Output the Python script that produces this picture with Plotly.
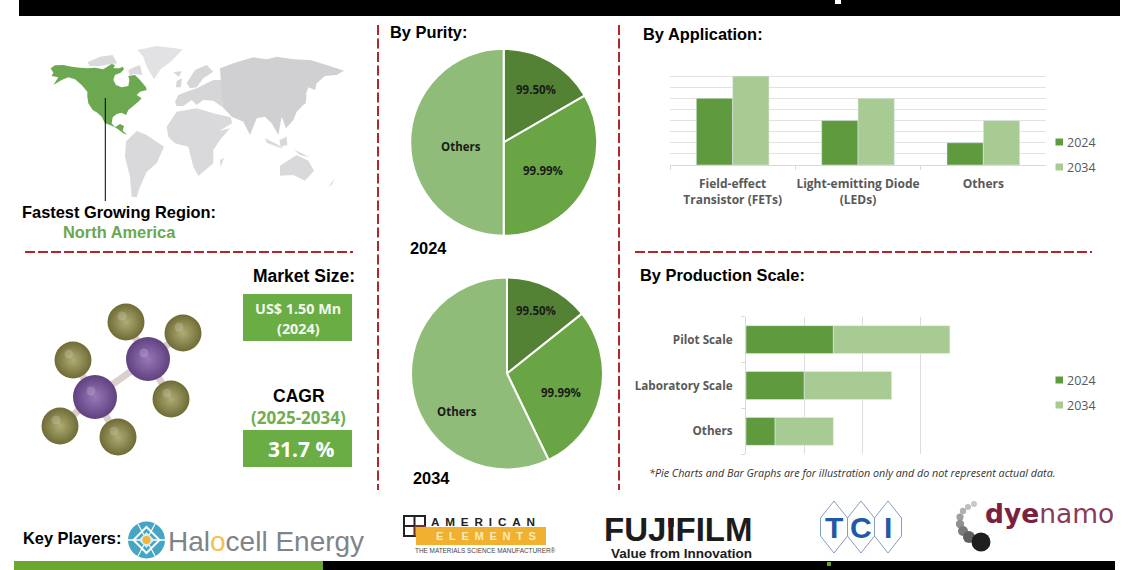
import plotly.graph_objects as go

W, H = 1140, 570
GREEN_DARK = '#5F9A3E'
GREEN_LIGHT = '#A8CB94'
RED = '#B0282E'
ARIAL = 'Liberation Sans'
SANS = 'Open Sans'

# pie data
purity_labels = ['99.50%', '99.99%', 'Others']
purity_2024 = [1, 2, 3]
purity_2034 = [1, 2, 4]
pie_colors = ['#548235', '#6AA545', '#8FBC78']
pie_text_2024 = [(536, 89), (543, 170), (461, 146)]
pie_text_2034 = [(536, 310), (561, 392), (457, 411)]

# application bars
app_labels = ['Field-effect<br>Transistor (FETs)', 'Light-emitting Diode<br>(LEDs)', 'Others']
app_2024 = [6, 4, 2]
app_2034 = [8, 6, 4]

# production scale bars
scale_labels = ['Others', 'Laboratory Scale', 'Pilot Scale']
scale_2024 = [0.5, 1, 1.5]
scale_2034 = [1, 1.5, 2]

# molecule, pixel positions
bonds = [[(148, 359), (95, 397)], [(148, 359), (126, 322)], [(148, 359), (183, 333)], [(148, 359), (171, 399)],
         [(95, 397), (73, 360)], [(95, 397), (60, 426)], [(95, 397), (118, 437)]]
purple_x = [148, 95]
purple_y = [359, 397]
olive_x = [126, 183, 73, 171, 60, 118]
olive_y = [322, 333, 360, 399, 426, 437]

# rough world outline, pixel positions x3 (taken from the zoomed crop)
land_grey = [
    ('#DADADC', [(262,187),(300,170),(338,165),(352,190),(330,193),(300,198),(270,198)]),
    ('#DADADC', [(385,210),(405,200),(420,195),(427,225),(405,222),(388,226)]),
    ('#E2E2E4', [(412,150),(470,138),(548,148),(512,185),(482,208),(462,238),(440,200),(430,170)]),
    ('#D9D9DB', [(378,425),(410,393),(440,405),(492,440),(470,490),(440,515),(420,560),(410,592),(395,590),(390,530),(375,470)]),
    ('#D9D9DB', [(500,380),(530,335),(590,325),(640,340),(660,392),(690,385),(660,420),(640,450),(640,490),(595,528),(580,500),(565,440),(525,430),(505,410)]),
    ('#D9D9DB', [(660,480),(672,473),(662,502)]),
    ('#D6D6D8', [(560,250),(585,210),(620,195),(640,215),(610,235),(590,262),(570,265)]),
    ('#D6D6D8', [(525,305),(535,285),(560,275),(590,265),(640,240),(665,240),(668,322),(640,302),(610,300),(590,315),(575,300),(550,318),(530,318)]),
    ('#D6D6D8', [(530,243),(546,235),(542,262),(528,262)]),
    ('#D6D6D8', [(520,216),(546,214),(536,230)]),
    ('#D0D0D2', [(660,205),(700,190),(760,172),(800,178),(830,170),(880,178),(930,180),(980,195),(1032,212),(1010,225),(975,228),
                 (950,250),(945,270),(925,262),(915,290),(905,320),(890,335),(880,360),(858,385),(845,350),(835,405),(815,370),(795,350),
                 (770,355),(750,405),(730,365),(695,350),(668,322)]),
    ('#DADADC', [(640,340),(692,352),(696,370),(655,395)]),
    ('#D0D0D2', [(905,296),(920,282),(917,310),(895,326)]),
    ('#D9D9DB', [(795,415),(830,432),(850,445),(835,442),(800,428)]),
    ('#D9D9DB', [(838,420),(860,410),(862,435),(842,440)]),
    ('#D9D9DB', [(880,448),(930,472),(900,465)]),
    ('#D9D9DB', [(840,497),(890,465),(925,482),(942,512),(915,542),(880,525),(840,527)]),
    ('#E2E2E4', [(985,562),(1003,535),(998,553)]),
]
land_green = [(152,205),(165,196),(190,195),(215,200),(240,203),(262,205),(285,203),(310,208),(325,198),(335,192),(345,195),
              (340,205),(358,205),(368,200),(372,208),(362,218),(345,225),(340,240),(348,255),(365,262),(385,258),(388,240),
              (385,228),(405,225),(420,240),(438,262),(440,270),(420,275),(410,285),(425,295),(415,305),(395,322),(385,330),
              (378,345),(365,338),(350,342),(338,352),(335,370),(345,382),(360,372),(372,378),(368,392),(382,405),(370,400),
              (350,385),(330,375),(315,370),(305,350),(292,338),(278,330),(265,310),(262,290),(262,275),(245,255),(225,238),
              (205,232),(185,240),(160,255),(170,240),(175,232),(155,228),(160,218)]

shapes = []
annots = []


def rect(x0, y0, x1, y1, color, line=None):
    shapes.append(dict(type='rect', xref='x3', yref='y3', x0=x0, y0=y0, x1=x1, y1=y1, fillcolor=color,
                       line=dict(width=line[1], color=line[0]) if line else dict(width=0)))


def seg(x0, y0, x1, y1, color, width=1, dash=None):
    shapes.append(dict(type='line', xref='x3', yref='y3', x0=x0, y0=y0, x1=x1, y1=y1,
                       line=dict(color=color, width=width, dash=dash)))


def circle(cx, cy, r, color):
    shapes.append(dict(type='circle', xref='x3', yref='y3', x0=cx-r, y0=cy-r, x1=cx+r, y1=cy+r,
                       fillcolor=color, line=dict(width=0)))


def poly(points, color, line=None):
    path = 'M ' + ' L '.join(f'{x} {y}' for x, y in points) + ' Z'
    shapes.append(dict(type='path', xref='x3', yref='y3', path=path, fillcolor=color,
                       line=dict(width=line[1], color=line[0]) if line else dict(width=0)))


def label(x, y, text, size=16.4, color='black', family=ARIAL, anchor='left', bold=True, weight=None):
    # annotations sit about 2px inside their anchor
    shift = {'left': -2, 'right': 2, 'center': 0}[anchor]
    annots.append(dict(xref='x3', yref='y3', x=x+shift, y=y, text=text, showarrow=False, xanchor=anchor, yanchor='middle',
                       font=dict(size=size, color=color, family=family, weight=weight or (700 if bold else 400))))


fig = go.Figure()

# bars
fig.add_trace(go.Bar(x=app_labels, y=app_2024, marker_color=GREEN_DARK, xaxis='x', yaxis='y', showlegend=False))
fig.add_trace(go.Bar(x=app_labels, y=app_2034, marker_color=GREEN_LIGHT, xaxis='x', yaxis='y', showlegend=False))
fig.add_trace(go.Bar(y=scale_labels, x=scale_2024, orientation='h', marker_color=GREEN_DARK, xaxis='x2', yaxis='y2', showlegend=False))
fig.add_trace(go.Bar(y=scale_labels, x=scale_2034, orientation='h', marker_color=GREEN_LIGHT, xaxis='x2', yaxis='y2', showlegend=False))

# pies
for vals, cx, cy, r in [(purity_2024, 503.7, 142.3, 93.5), (purity_2034, 507, 373.5, 96)]:
    fig.add_trace(go.Pie(labels=purity_labels, values=vals, sort=False, direction='clockwise', rotation=0,
                         textinfo='none',
                         marker=dict(colors=pie_colors, line=dict(color='white', width=2)),
                         domain=dict(x=[(cx-r)/W, (cx+r)/W], y=[1-(cy+r)/H, 1-(cy-r)/H]), showlegend=False))
for spots in (pie_text_2024, pie_text_2034):
    for name, (tx, ty) in zip(purity_labels, spots):
        label(tx, ty, name, size=11.5, color='#1A1A1A', family=SANS, anchor='center')

# molecule
for a, b in bonds:
    fig.add_trace(go.Scatter(x=[a[0], b[0]], y=[a[1], b[1]], mode='lines', xaxis='x3', yaxis='y3', showlegend=False,
                             line=dict(color='#D9CFCB', width=7)))
fig.add_trace(go.Scatter(x=olive_x, y=olive_y, mode='markers', xaxis='x3', yaxis='y3', showlegend=False,
                         marker=dict(size=37, color='#6F6B36', line_width=0, gradient=dict(type='radial', color='#B0AC74'))))
fig.add_trace(go.Scatter(x=purple_x, y=purple_y, mode='markers', xaxis='x3', yaxis='y3', showlegend=False,
                         marker=dict(size=44, color='#5F417F', line_width=0, gradient=dict(type='radial', color='#9A78BA'))))
# soft highlights
fig.add_trace(go.Scatter(x=[v-4 for v in olive_x+purple_x], y=[v-6 for v in olive_y+purple_y], mode='markers',
                         xaxis='x3', yaxis='y3', showlegend=False,
                         marker=dict(size=9, color='rgba(255,255,255,0.18)', line_width=0)))

# header and footer bars
rect(19, 0, 1120, 16, 'black')
rect(835, 0, 841, 4, 'white')
rect(14, 561, 323, 570, '#6BA72E')
rect(323, 561, 1115, 570, 'black')
rect(827, 562, 831, 566, '#6BA72E')

# dashed dividers
for x in (378, 619):
    seg(x, 25, x, 490, RED, 2, '10px,3.5px')
seg(25, 252, 353, 252, RED, 2, '10px,3px')
seg(635, 252, 1092, 252, RED, 2, '10px,3px')

# map
for color, pts in land_grey:
    poly([(x/3, y/3) for x, y in pts], color)
poly([(x/3, y/3) for x, y in land_green], '#6BA84F')
seg(105.3, 98, 105.3, 201, 'black', 1)

# headings
label(390, 32, 'By Purity:')
label(643, 34, 'By Application:')
label(640, 275, 'By Production Scale:')
label(119, 212, 'Fastest Growing Region:', anchor='center')
label(119.5, 232, 'North America', color='#6AA84F', anchor='center')
label(355, 276, 'Market Size:', size=17.5, anchor='right')
label(299, 396, 'CAGR', size=17.5, anchor='center')
label(298.5, 417, '(2025-2034)', color='#6FAE4E', family=SANS, size=17, anchor='center')
label(410, 248, '2024')
label(413, 478, '2034')
label(23, 538, 'Key Players:')

# kpi boxes
rect(243, 294, 352, 341, '#6AAD45')
label(298, 308.5, 'US$ 1.50 Mn', size=14.4, color='#F2F7EE', family=SANS, anchor='center')
label(298, 328, '(2024)', size=14.4, color='#F2F7EE', family=SANS, anchor='center')
rect(243, 430, 352, 467, '#6AAD45')
label(301, 449, '31.7 %', size=21, color='white', family=SANS, anchor='center')

# hand made legends
for y0 in (142, 380):
    rect(1055.5, y0-3.5, 1063, y0+3.5, GREEN_DARK)
    label(1067, y0, '2024', size=12.5, color='#595959', family=SANS, bold=False)
    rect(1055.5, y0+21.5, 1063, y0+28.5, GREEN_LIGHT)
    label(1067, y0+25, '2034', size=12.5, color='#595959', family=SANS, bold=False)

label(649, 473, '<i>*Pie Charts and Bar Graphs are for illustration only and do not represent actual data.</i>',
      size=10.75, color='#333333', family=SANS, bold=False)

# halocell logo
circle(146.5, 540, 18.5, '#44A5C4')
poly([(146.5, 527), (159.5, 540), (146.5, 553), (133.5, 540)], 'rgba(0,0,0,0)', ('white', 2))
seg(128, 540, 165, 540, 'white', 1.5)
seg(138, 524, 155, 556, 'white', 1.2)
seg(155, 524, 138, 556, 'white', 1.2)
poly([(146.5, 532), (154.5, 540), (146.5, 548), (138.5, 540)], '#D7ECF3')
circle(146.5, 540, 4, '#F0B63C')
label(168, 541, 'Hal<span style="color:#F2C14E">o</span>cell Energy', size=28, color='#7F8488', bold=False)

# american elements logo
rect(404, 516, 425, 536, 'white', ('#222222', 2))
seg(414.5, 516, 414.5, 536, '#222222', 2)
seg(404, 526, 425, 526, '#222222', 2)
rect(415, 526, 425, 536, 'rgba(0,0,0,0)', ('#C8402A', 1))
label(431, 521, 'A\u2002M\u2002E\u2002R\u2002I\u2002C\u2002A\u2002N', size=11.7, color='#222222')
rect(416, 527, 546, 545, '#F0B030')
label(436, 536, 'E\u2002L\u2002E\u2002M\u2002E\u2002N\u2002T\u2002S', size=11.2, color='#FCE9B8')
label(415, 550, 'THE MATERIALS SCIENCE MANUFACTURER®', size=6.4, color='#444444', bold=False)

# fujifilm logo
label(604, 529, 'FUJIFILM', size=33, color='#1C1C1C')
rect(668, 518, 674, 527, '#D0202A')
label(681, 553.5, 'Value from Innovation', size=13.5, color='#1C1C1C', anchor='center')

# tci logo
for cx, letter in [(834, 'T'), (861, 'C'), (888, 'I')]:
    poly([(cx, 501), (cx+13.5, 518), (cx+13.5, 536), (cx, 553), (cx-13.5, 536), (cx-13.5, 518)], 'white', ('#7F9FC0', 1))
    label(cx, 527, letter, size=30, color='#1F5AA6', anchor='center')

# dyenamo logo
for cx, cy, r, c in [(974, 504, 3, '#C8C8C8'), (968, 507, 3, '#BDBDBD'), (963, 511, 3.2, '#B0B0B0'), (960, 517, 3.6, '#A0A0A0'),
                     (960, 524, 4.2, '#909090'), (963, 531, 5, '#7A7A7A'), (969, 537, 6, '#606060'), (981, 542, 9.5, '#1E1E1E')]:
    circle(cx, cy, r, c)
label(985, 513, '<b>dye</b><span style="color:#8A3A58">namo</span>', size=26.5, color='#7A2040', family='DejaVu Sans', bold=False)

axis_grey = '#D9D9D9'
fig.update_layout(
    width=W, height=H, margin=dict(l=0, r=0, t=0, b=0),
    paper_bgcolor='white', plot_bgcolor='rgba(0,0,0,0)',
    barmode='group', bargap=0.42, bargroupgap=0,
    xaxis=dict(domain=[670/W, 1046/W], anchor='y', tickson='boundaries', ticks='outside', ticklen=4, tickcolor=axis_grey,
               showline=True, linecolor=axis_grey, tickfont=dict(size=12, color='#595959', family=SANS, weight=700),
               tickangle=0, ticklabelstandoff=8, fixedrange=True),
    yaxis=dict(domain=[1-165/H, 1-65/H], anchor='x', range=[0, 9], dtick=1, showticklabels=False, gridcolor='#E2E2E2',
               zeroline=False, fixedrange=True),
    xaxis2=dict(domain=[746/W, 979/W], anchor='y2', range=[0, 4], dtick=1, showticklabels=False, gridcolor='#DDDDDD',
                zeroline=False, fixedrange=True),
    yaxis2=dict(domain=[1-454.3/H, 1-316.7/H], anchor='x2', tickson='boundaries', ticks='outside', ticklen=4,
                tickcolor=axis_grey, showline=True, linecolor=axis_grey,
                tickfont=dict(size=11.7, color='#595959', family=SANS, weight=700), ticklabelstandoff=10,
                fixedrange=True),
    xaxis3=dict(domain=[0, 1], anchor='y3', range=[0, W], visible=False, fixedrange=True),
    yaxis3=dict(domain=[0, 1], anchor='x3', range=[H, 0], visible=False, fixedrange=True),
    shapes=shapes, annotations=annots,
)
# second bar chart is stacked, first is grouped: offset the stacked one by hand via base
fig.data[3].base = scale_2024
fig.data[2].offsetgroup = 'a'
fig.data[3].offsetgroup = 'a'
fig.data[2].width = 0.61
fig.data[3].width = 0.61

fig.write_html("out.html", config=dict(displayModeBar=False), post_script="document.body.style.margin='0';")
